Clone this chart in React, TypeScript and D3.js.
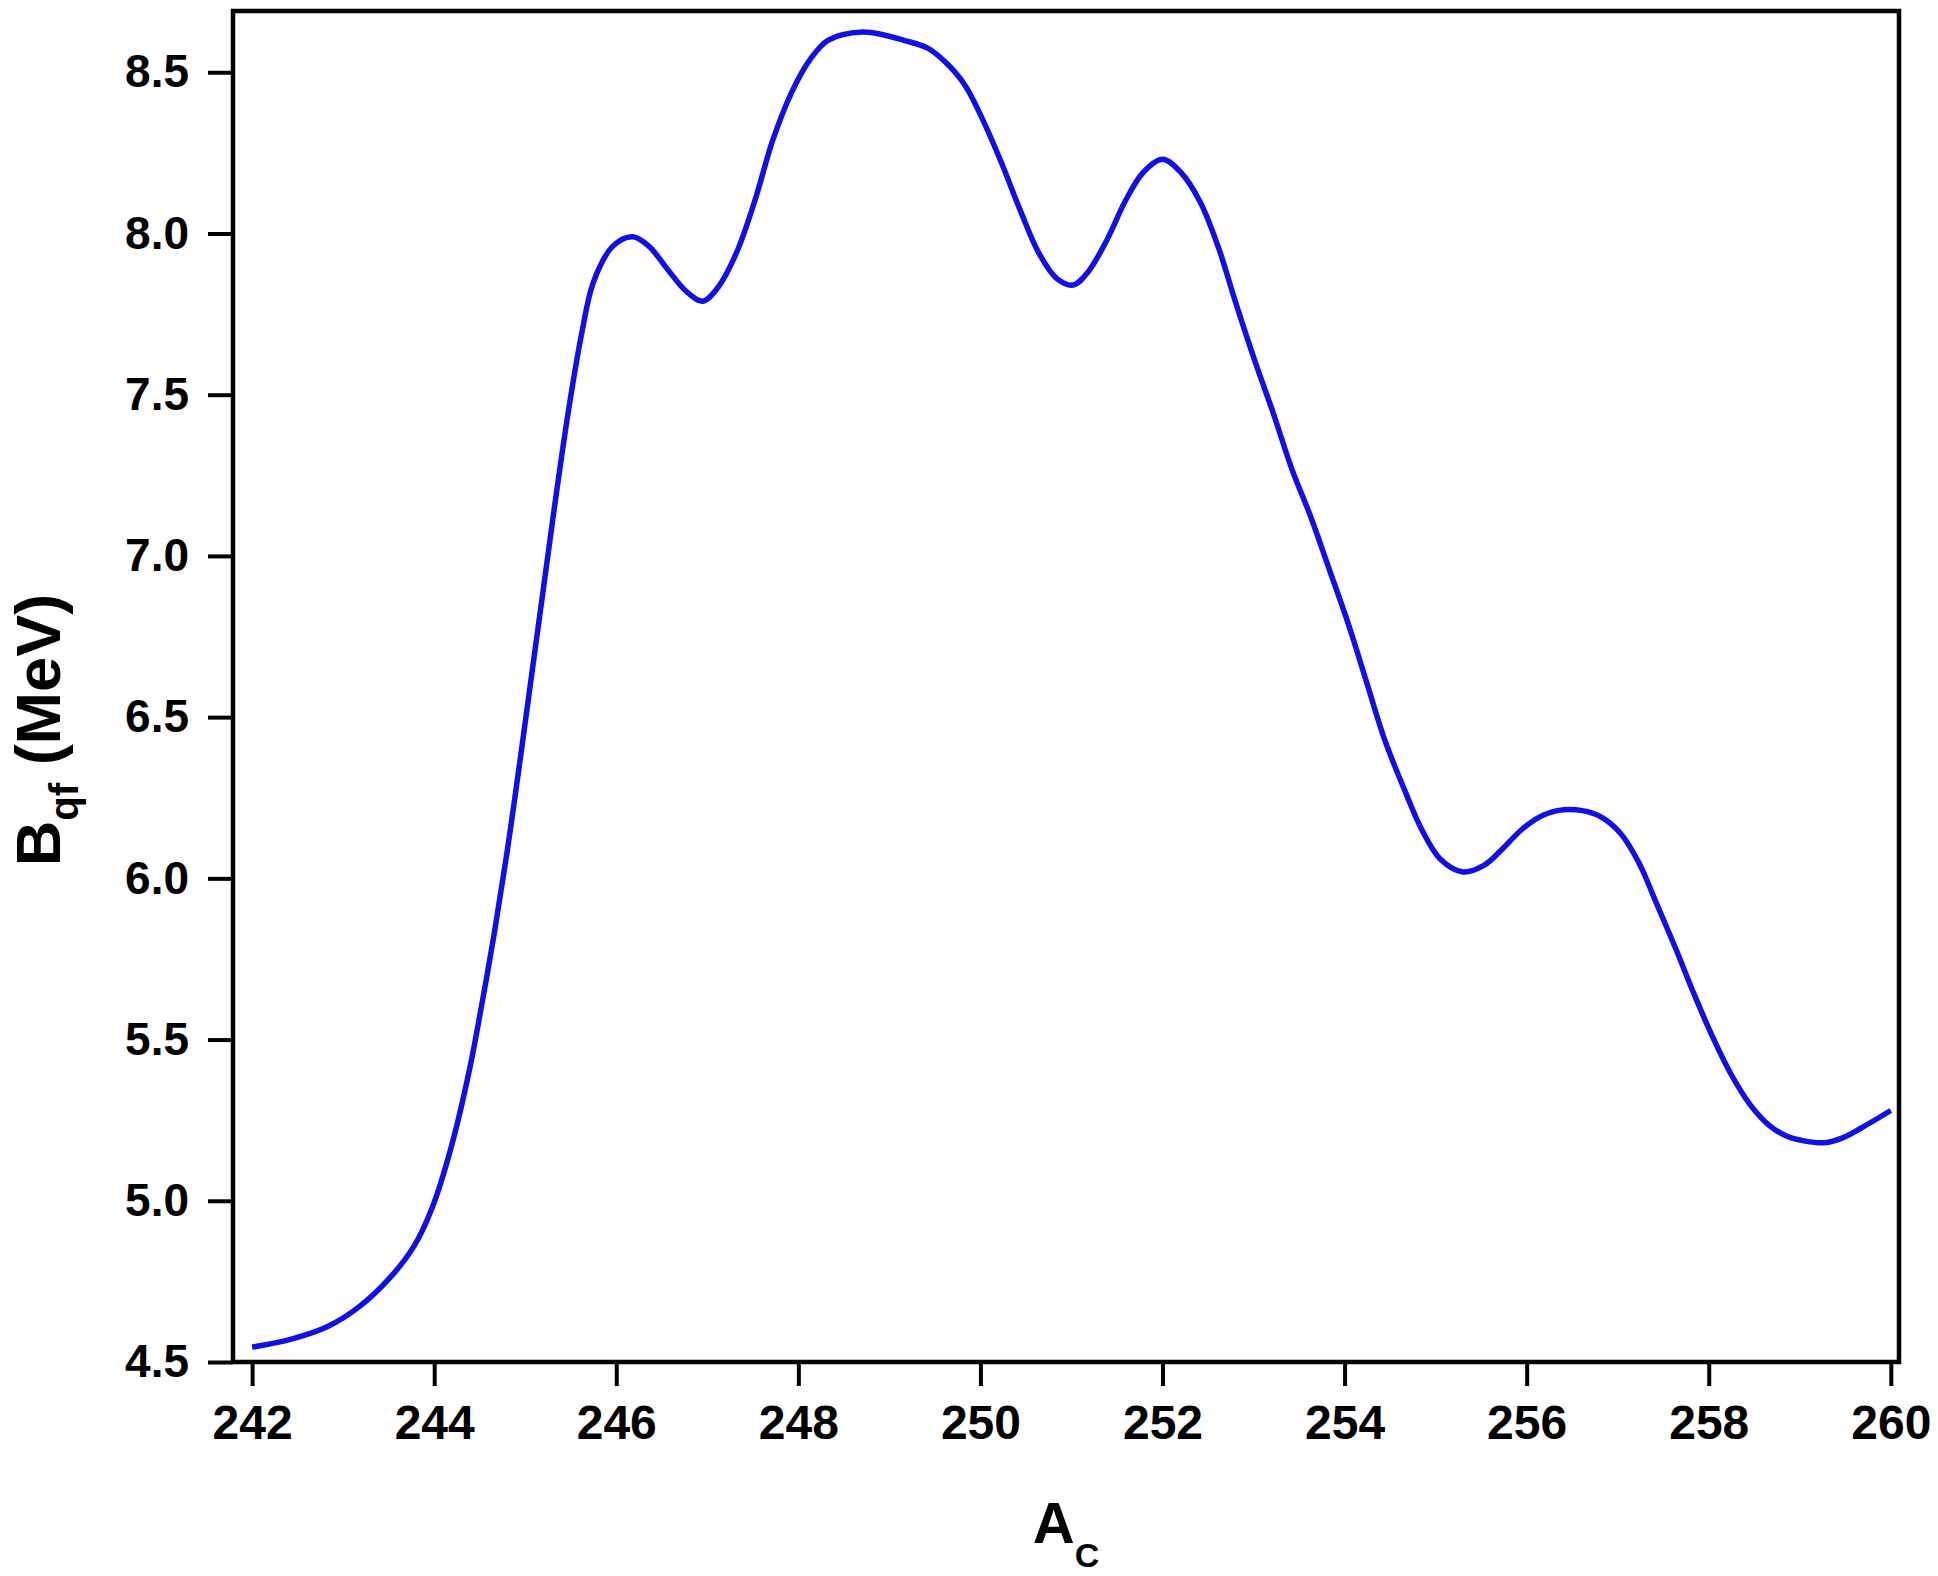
import * as d3 from "d3";
import { useEffect, useRef } from "react";

// mass number of compound nucleus
const massNumbers = [
  242.0, 242.42, 242.83, 243.17, 243.51, 243.78, 243.98, 244.19, 244.39, 244.53,
  244.66, 244.8, 244.94, 245.07, 245.21, 245.34, 245.48, 245.62, 245.75, 245.96,
  246.18, 246.36, 246.56, 246.77, 246.95, 247.11, 247.32, 247.52, 247.72, 247.93,
  248.13, 248.33, 248.7, 248.95, 249.15, 249.42, 249.62, 249.83, 250.03, 250.23,
  250.44, 250.64, 250.84, 251.02, 251.18, 251.39, 251.59, 251.79, 252.0, 252.2,
  252.41, 252.61, 252.81, 253.02, 253.22, 253.42, 253.63, 253.83, 254.04, 254.24,
  254.44, 254.65, 254.85, 255.05, 255.3, 255.53, 255.73, 255.94, 256.14, 256.34,
  256.61, 256.82, 257.03, 257.23, 257.43, 257.64, 257.84, 258.04, 258.25, 258.45,
  258.66, 258.86, 259.06, 259.27, 259.47, 259.67, 260.0,
];

// quasi-fission barrier (MeV)
const barrier = [
  4.546, 4.57, 4.61, 4.67, 4.76, 4.86, 4.98, 5.17, 5.41, 5.62,
  5.83, 6.08, 6.36, 6.63, 6.92, 7.19, 7.46, 7.69, 7.85, 7.96,
  7.99, 7.96, 7.89, 7.82, 7.79, 7.83, 7.94, 8.1, 8.29, 8.44,
  8.54, 8.6, 8.625, 8.615, 8.6, 8.575, 8.53, 8.46, 8.35, 8.22,
  8.07, 7.94, 7.86, 7.84, 7.88, 7.98, 8.1, 8.19, 8.23, 8.19,
  8.1, 7.96, 7.78, 7.6, 7.44, 7.27, 7.12, 6.96, 6.79, 6.61,
  6.43, 6.28, 6.15, 6.06, 6.02, 6.04, 6.09, 6.15, 6.19, 6.21,
  6.21, 6.19, 6.14, 6.05, 5.92, 5.78, 5.64, 5.51, 5.39, 5.3,
  5.235, 5.2, 5.185, 5.18, 5.195, 5.225, 5.28,
];

const xTicks = [242, 244, 246, 248, 250, 252, 254, 256, 258, 260];
const yTicks = [4.5, 5.0, 5.5, 6.0, 6.5, 7.0, 7.5, 8.0, 8.5];

const W = 1938;
const H = 1576;
const left = 233,
  right = 1899,
  top = 11,
  bottom = 1362;
const font = "'Liberation Sans', Arial, Helvetica, sans-serif";

export default function App() {
  const ref = useRef<SVGSVGElement | null>(null);

  useEffect(() => {
    const svg = d3.select(ref.current);
    svg.selectAll("*").remove();

    const x = d3.scaleLinear().domain([241.79, 260.09]).range([left, right]);
    const y = d3.scaleLinear().domain([4.5, 8.69]).range([bottom, top]);

    const pts = massNumbers.map((a, i) => [a, barrier[i]] as [number, number]);

    const line = d3
      .line<[number, number]>()
      .x((d) => x(d[0]))
      .y((d) => y(d[1]))
      .curve(d3.curveCatmullRom.alpha(0.5));

    svg
      .append("path")
      .datum(pts)
      .attr("d", line)
      .attr("fill", "none")
      .attr("stroke", "#1010e6")
      .attr("stroke-width", 5.5)
      .attr("stroke-linejoin", "round");

    // frame
    svg
      .append("rect")
      .attr("x", left)
      .attr("y", top)
      .attr("width", right - left)
      .attr("height", bottom - top)
      .attr("fill", "none")
      .attr("stroke", "#000")
      .attr("stroke-width", 4.5);

    const xAxis = svg
      .append("g")
      .attr("transform", `translate(0,${bottom})`)
      .call(
        d3
          .axisBottom(x)
          .tickValues(xTicks)
          .tickSize(24)
          .tickSizeOuter(0)
          .tickPadding(19)
          .tickFormat(d3.format("d"))
      );
    xAxis.select(".domain").remove();
    xAxis.selectAll("line").attr("stroke", "#000").attr("stroke-width", 4);
    xAxis
      .selectAll("text")
      .attr("font-family", font)
      .attr("font-weight", "bold")
      .attr("font-size", 48)
      .attr("fill", "#000");

    const yAxis = svg
      .append("g")
      .attr("transform", `translate(${left},0)`)
      .call(
        d3
          .axisLeft(y)
          .tickValues(yTicks)
          .tickSize(25)
          .tickSizeOuter(0)
          .tickPadding(19)
          .tickFormat(d3.format(".1f"))
      );
    yAxis.select(".domain").remove();
    yAxis.selectAll("line").attr("stroke", "#000").attr("stroke-width", 4);
    yAxis
      .selectAll("text")
      .attr("font-family", font)
      .attr("font-weight", "bold")
      .attr("font-size", 46)
      .attr("fill", "#000");

    // x title
    const xt = svg
      .append("text")
      .attr("x", (left + right) / 2)
      .attr("y", 1543)
      .attr("text-anchor", "middle")
      .attr("font-family", font)
      .attr("font-weight", "bold")
      .attr("font-size", 58);
    xt.append("tspan").text("A");
    xt.append("tspan").attr("dy", 24).attr("font-size", 34).text("C");

    // y title
    const yt = svg
      .append("text")
      .attr("transform", "translate(60,730) rotate(-90)")
      .attr("text-anchor", "middle")
      .attr("font-family", font)
      .attr("font-weight", "bold")
      .attr("font-size", 63);
    yt.append("tspan").text("B");
    yt.append("tspan").attr("dy", 18).attr("font-size", 40).text("qf");
    yt.append("tspan").attr("dy", -18).text(" (MeV)");
  }, []);

  return (
    <svg
      ref={ref}
      width={W}
      height={H}
      style={{ position: "absolute", left: 0, top: 0, background: "#fff" }}
    />
  );
}
